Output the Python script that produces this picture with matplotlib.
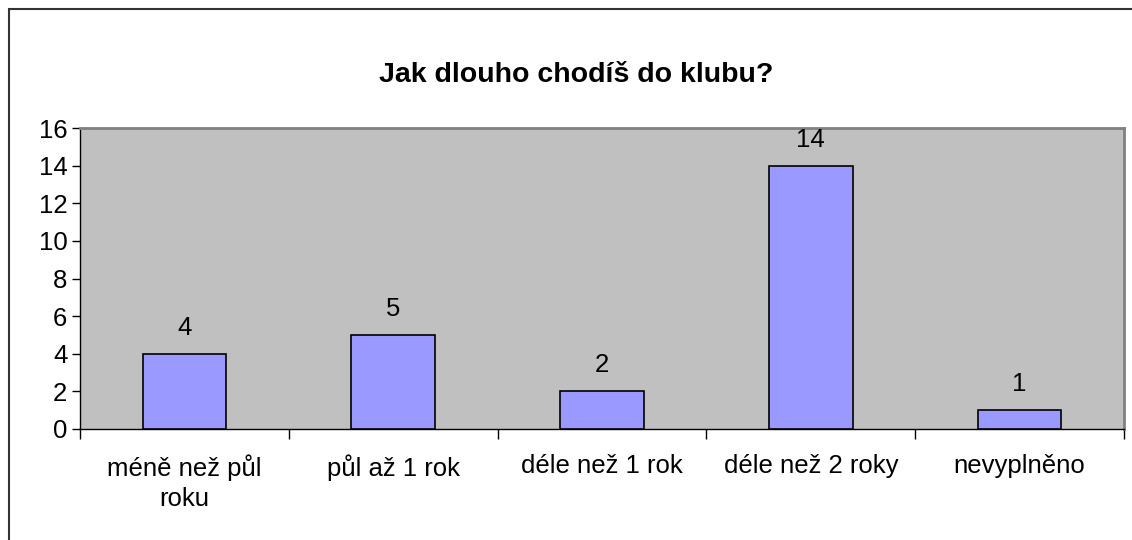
import matplotlib.pyplot as plt
from matplotlib.patches import Rectangle
import numpy as np

plt.rcParams['font.family'] = ['Liberation Sans', 'DejaVu Sans']

# data
categories = ['méně než půl\nroku', 'půl až 1 rok', 'déle než 1 rok',
              'déle než 2 roky', 'nevyplněno']
counts = [4, 5, 2, 14, 1]
title = 'Jak dlouho chodíš do klubu?'

W, H = 1132, 540
fig = plt.figure(figsize=(W / 100, H / 100), dpi=100)
fig.patch.set_facecolor('white')

# outer chart frame (runs past the right/bottom edge like the original)
fig.patches.append(Rectangle((9 / W, -0.1), 1.2, 1 - 9 / H + 0.1,
                             transform=fig.transFigure, fill=False,
                             edgecolor='#333333', linewidth=1.5))

# plot area in pixel coordinates
left, right, top, bottom = 80, 1124, 128, 429
ax = fig.add_axes([left / W, 1 - bottom / H, (right - left) / W,
                   (bottom - top) / H])
ax.set_facecolor('#C0C0C0')

fs = 18.5
x = np.arange(len(categories))
ax.bar(x, counts, width=0.4, color='#9999FF', edgecolor='black',
       linewidth=1.2, zorder=3)
for xi, v in zip(x, counts):
    ax.text(xi, v + 0.75, str(v), ha='center', va='bottom', fontsize=fs)

ax.set_xlim(-0.5, len(categories) - 0.5)
ax.set_ylim(0, 16)
ax.set_yticks(range(0, 17, 2))
ax.tick_params(axis='y', labelsize=fs, length=6, direction='out',
               width=1, pad=3)

# category boundaries for x ticks, labels centered on bars
ax.set_xticks(np.arange(-0.5, len(categories), 1.0))
ax.set_xticklabels([])
ax.set_xticks(x, minor=True)
ax.set_xticklabels(categories, minor=True, fontsize=fs, linespacing=1.32)
ax.tick_params(axis='x', which='major', length=7, direction='out', width=1)
ax.tick_params(axis='x', which='minor', length=0, pad=18)

for s in ['top', 'right']:
    ax.spines[s].set_color('#808080')
    ax.spines[s].set_linewidth(2)
for s in ['left', 'bottom']:
    ax.spines[s].set_color('black')
    ax.spines[s].set_linewidth(1)

fig.text(576 / W, 1 - 75 / H, title, ha='center', va='center',
         fontsize=20.5, fontweight='bold')

fig.savefig('out.png', dpi=100)
